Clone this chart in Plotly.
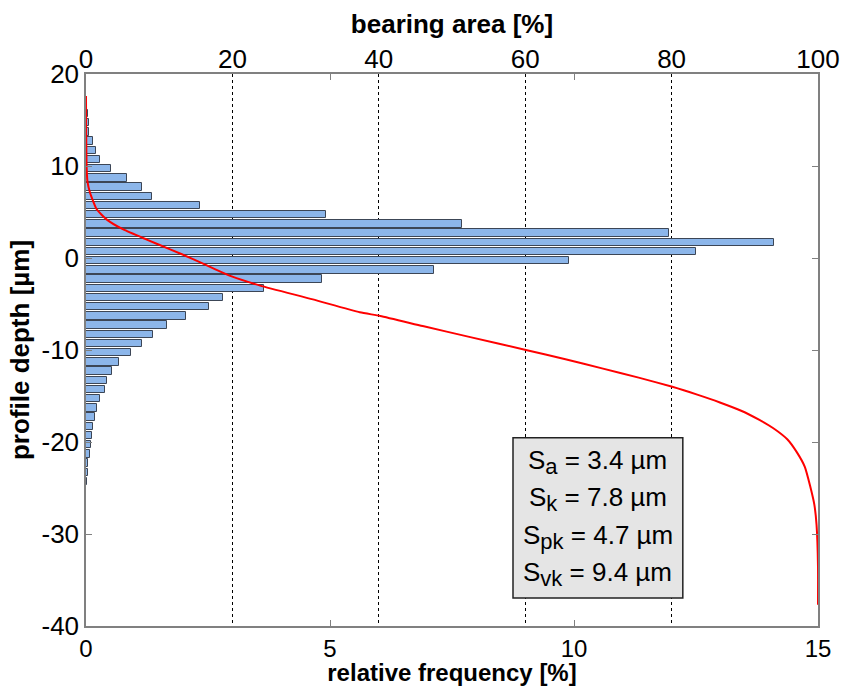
import plotly.graph_objects as go

# ---- data ----
depth_bins = [16.7, 15.7, 14.7, 13.7, 12.7, 11.7, 10.7, 9.7, 8.7, 7.7, 6.7, 5.7, 4.7, 3.7, 2.7,
              1.7, 0.7, -0.3, -1.3, -2.3, -3.3, -4.3, -5.3, -6.3, -7.3, -8.3, -9.3, -10.3,
              -11.3, -12.3, -13.3, -14.3, -15.3, -16.3, -17.3, -18.3, -19.3, -20.3, -21.3,
              -22.3, -23.3, -24.3, -25.3, -26.3, -27.3, -28.3]
rel_freq = [0.02, 0.04, 0.07, 0.07, 0.14, 0.20, 0.29, 0.52, 0.83, 1.14, 1.36, 2.34, 4.91, 7.70, 11.95,
            14.10, 12.50, 9.90, 7.13, 4.84, 3.65, 2.81, 2.52, 2.05, 1.65, 1.38, 1.14, 0.92,
            0.68, 0.54, 0.42, 0.38, 0.29, 0.22, 0.19, 0.14, 0.12, 0.11, 0.08,
            0.05, 0.04, 0.02, 0.01, 0.01, 0.005, 0.005]

bearing_area = [0, 0.02, 0.08, 0.2, 0.55, 1.46, 2.8, 5.1, 8.3, 11.5, 14.7, 17.6, 19.9, 23.8, 31.0,
                37.4, 40.2, 46.0, 52.5, 60.1, 65.5, 70.5, 75.5, 80.1, 83.5, 86.6, 89.5, 92.0,
                93.9, 95.8, 97.1, 98.2, 98.9, 99.5, 99.8, 100.0, 100.0]
bearing_depth = [17.6, 14.0, 10.0, 8.3, 7.1, 5.3, 4.2, 3.1, 2.0, 0.94, -0.14, -1.2, -2.0, -3.0, -4.5,
                 -5.9, -6.3, -7.4, -8.6, -10.0, -11.0, -12.0, -13.0, -14.0, -14.85, -15.7, -16.6, -17.6,
                 -18.5, -19.7, -21.1, -22.7, -24.7, -26.8, -29.0, -33.5, -37.7]

x_ticks = [0, 5, 10, 15]
x2_ticks = [0, 20, 40, 60, 80, 100]
y_ticks = [-40, -30, -20, -10, 0, 10, 20]

param_subs = ["a", "k", "pk", "vk"]
param_values = [3.4, 7.8, 4.7, 9.4]

FONT = "Liberation Sans, Arial, sans-serif"
AXC = "#808080"

fig = go.Figure()
fig.add_trace(go.Bar(
    x=rel_freq, y=depth_bins, orientation="h", width=0.8,
    marker=dict(color="#8cb6ea", line=dict(color="#3c4656", width=1)),
    xaxis="x", yaxis="y", showlegend=False,
))
fig.add_trace(go.Scatter(
    x=bearing_area, y=bearing_depth, mode="lines",
    line=dict(color="#ff0000", width=2, shape="spline", smoothing=0.5),
    xaxis="x2", yaxis="y", showlegend=False,
))

# parameter box
fig.add_shape(type="rect", xref="x", yref="y", x0=8.75, x1=12.23, y0=-36.97, y1=-19.53,
              fillcolor="#e5e5e5", line=dict(color="#222222", width=1.5), layer="above")
line_y = [-22.2, -26.2, -30.3, -34.3]
for sub, val, yy in zip(param_subs, param_values, line_y):
    fig.add_annotation(x=10.49, y=yy, xref="x", yref="y",
                       text=f"S<sub><span style='font-size:22px'>{sub}</span></sub> = {val} µm",
                       showarrow=False,
                       font=dict(family=FONT, size=26, color="black"),
                       xanchor="center", yanchor="middle")

fig.update_layout(
    width=844, height=686,
    margin=dict(l=86, r=26, t=74, b=60),
    paper_bgcolor="white", plot_bgcolor="white",
    font=dict(family=FONT, size=26, color="black"),
    bargap=0,
    xaxis=dict(
        range=[0, 15], tickvals=x_ticks, ticktext=[str(v) for v in x_ticks],
        ticks="inside", ticklen=6, tickcolor=AXC,
        showline=True, linecolor=AXC, linewidth=1.5, mirror="ticks", showgrid=False,
        zeroline=False, tickfont=dict(size=24), automargin=False,
        title=dict(text="<b>relative frequency [%]</b>", font=dict(size=24), standoff=0),
    ),
    xaxis2=dict(
        range=[0, 100], tickvals=x2_ticks, ticktext=[str(v) for v in x2_ticks],
        overlaying="x", side="top",
        anchor="y", ticks="", showline=False, zeroline=False,
        showgrid=True, gridcolor="black", griddash="dot", gridwidth=1,
        tickfont=dict(size=26), automargin=False,
        title=dict(text="<b>bearing area [%]</b>", font=dict(size=26), standoff=2),
    ),
    yaxis=dict(
        range=[-40, 20], tickvals=y_ticks, ticktext=[str(v) for v in y_ticks],
        ticks="inside", ticklen=6,
        tickcolor=AXC, showline=True, linecolor=AXC, linewidth=1.5, mirror="ticks",
        showgrid=False, zeroline=False, tickfont=dict(size=26), automargin=False,
        title=dict(text="<b>profile depth [µm]</b>", font=dict(size=26), standoff=4),
    ),
)

fig.write_html("out.html")
